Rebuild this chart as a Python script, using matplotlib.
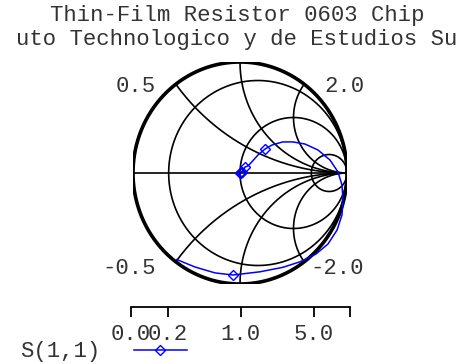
import numpy as np
import matplotlib
matplotlib.use("Agg")
import matplotlib.pyplot as plt

plt.rcParams['font.family'] = ['Liberation Mono', 'DejaVu Sans Mono']

title_lines = ["Thin-Film Resistor 0603 Chip", "uto Technologico y de Estudios Su"]

s11_re = [0.0, 0.005, 0.01, 0.02, 0.03, 0.047, 0.065, 0.084, 0.11, 0.168, 0.234,
          0.299, 0.40, 0.495, 0.607, 0.729, 0.841, 0.916, 0.953, 0.963, 0.953,
          0.907, 0.822, 0.71, 0.561, 0.40, 0.187, -0.065, -0.234, -0.42, -0.59]
s11_im = [0.0, 0.004, 0.01, 0.012, 0.02, 0.054, 0.06, 0.072, 0.10, 0.162, 0.216,
          0.252, 0.28, 0.28, 0.261, 0.207, 0.117, 0.009, -0.108, -0.243, -0.378,
          -0.514, -0.64, -0.73, -0.80, -0.85, -0.89, -0.919, -0.90, -0.847, -0.78]
marker_idx = [0, 1, 2, 3, 5, 10, 27]

r_circles = [0.2, 1.0, 5.0]
x_arcs = [0.5, 1.0, 2.0]
arc_labels = ["0.5", "2.0", "-0.5", "-2.0"]
scale_r = [0.0, 0.2, 1.0, 5.0]
scale_labels = ["0.0", "0.2", "1.0", "5.0"]

W, H = 474, 364
fig = plt.figure(figsize=(W / 100, H / 100), dpi=100)

# main smith axes: unit circle spans px 133..347 (x), 62..284 (y)
ax = fig.add_axes([133 / W, 1 - 284 / H, 214 / W, 222 / H])
ax.set_xlim(-1, 1)
ax.set_ylim(-1, 1)
ax.axis('off')

t = np.linspace(0, 2 * np.pi, 400)
for r in r_circles:
    c = r / (1 + r)
    rad = 1 / (1 + r)
    ax.plot(c + rad * np.cos(t), rad * np.sin(t), color='black', lw=1.2)

for xv in x_arcs:
    for s in (1, -1):
        rr = np.concatenate([np.linspace(0, 5, 200), np.logspace(np.log10(5), 4, 200)])
        g = (rr + 1j * s * xv - 1) / (rr + 1j * s * xv + 1)
        ax.plot(g.real, g.imag, color='black', lw=1.2)

ax.plot([-1, 1], [0, 0], color='black', lw=1.2)
ax.plot(np.cos(t), np.sin(t), color='black', lw=2.6)

# reactance labels, right-aligned, baseline positions
label_pos = [(-0.79, 0.732), (1.16, 0.732), (-0.79, -0.91), (1.16, -0.91)]
for lab, (lx, ly) in zip(arc_labels, label_pos):
    ax.text(lx, ly, lab, ha='right', va='baseline', fontsize=16, color='#333333')

line, = ax.plot(s11_re, s11_im, color='#0000ff', lw=1.1, marker='D', markersize=5.5,
                markerfacecolor='none', markeredgecolor='#0000ff', markeredgewidth=1.0,
                markevery=marker_idx, label="S(1,1)")

# resistance scale below the chart
sax = fig.add_axes([131 / W, 1 - 307 / H, 219 / W, 0.001])
sax.set_xlim(-1, 1)
sax.set_yticks([])
for sp in ('left', 'right', 'bottom'):
    sax.spines[sp].set_visible(False)
sax.spines['top'].set_linewidth(1.3)
ticks = [(r - 1) / (r + 1) for r in scale_r] + [1.0]
sax.set_xticks(ticks)
sax.set_xticklabels(scale_labels + [""])
sax.tick_params(axis='x', direction='out', length=7, width=1.3, pad=5, labelsize=16, labelcolor='#333333')

for i, txt in enumerate(title_lines):
    fig.text(0.5, 1 - (15 + 25 * i) / H, txt, ha='center', va='center', fontsize=16, color='#333333')

fig.legend(handles=[line], loc='center left', bbox_to_anchor=(9 / W, 1 - 352 / H),
           frameon=False, markerfirst=False, fontsize=16, handlelength=2.4,
           handletextpad=1.5, labelcolor='#333333', borderpad=0)

fig.savefig("out.png", dpi=100)
